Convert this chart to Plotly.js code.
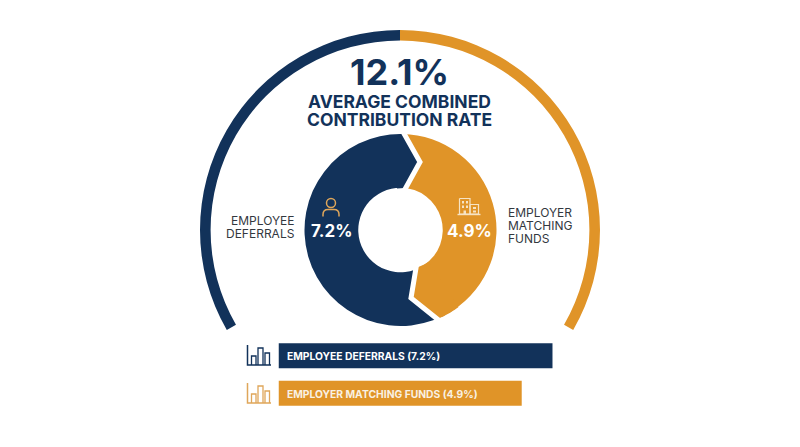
<!DOCTYPE html>
<html><head><meta charset="utf-8">
<script src="https://cdn.plot.ly/plotly-3.0.1.min.js"></script>
<style>html,body{margin:0;padding:0;background:#fff}</style></head>
<body><div id="chart" style="width:800px;height:447px"></div>
<script>
const NAVY = '#12325a', ORANGE = '#e09428', INK = '#33383f';
const FONT = 'Inter, "Open Sans", sans-serif';

// data
const sliceLabels = ['Employer Matching Funds', 'Employee Deferrals'];
const sliceValues = [4.9, 7.2];
const gaugeLabels = ['Employer', 'Open', 'Employee'];
const gaugeDegrees = [120, 120, 120];
const barCategories = ['EMPLOYEE DEFERRALS (7.2%)', 'EMPLOYER MATCHING FUNDS (4.9%)'];
const barLengths = [100, 88.7];   // as drawn: share of the longest bar
const totalLabel = '12.1%';
const titleLines = ['AVERAGE COMBINED', 'CONTRIBUTION RATE'];
const leftLines = ['EMPLOYEE', 'DEFERRALS'];
const rightLines = ['EMPLOYER', 'MATCHING', 'FUNDS'];

const W = 800, H = 447;
const fx = x => x / W, fy = y => 1 - y / H;
const pt = (x, y) => fx(x) + ' ' + fy(y);
const path = (cmds) => cmds.map(c => c[0] + ' ' + (c.slice(1).map(p => pt(p[0], p[1])).join(' '))).join(' ');
const poly = pts => path(pts.map((p, i) => [i ? 'L' : 'M', p]));

function txt(text, x, y, size, color, weight, anchor) {
  return {text, xref: 'paper', yref: 'paper', x: fx(x), y: fy(y), showarrow: false,
    xanchor: anchor || 'center', yanchor: 'middle', borderpad: 0,
    font: {family: FONT, size, color, weight: weight || 400}};
}
function fillShape(d, color) {
  return {type: 'path', xref: 'paper', yref: 'paper', path: d, fillcolor: color, line: {width: 0}, layer: 'above'};
}
function strokeShape(d, color, w) {
  return {type: 'path', xref: 'paper', yref: 'paper', path: d, line: {color, width: w}, layer: 'above'};
}
function rectPath(x0, y0, x1, y1) { return poly([[x0,y0],[x1,y0],[x1,y1],[x0,y1],[x0,y0]]); }

function barIcon(color, dy) {
  return [
    strokeShape(poly([[247.5,345+dy],[247.5,365+dy],[271,365+dy]]), color, 1.5),
    strokeShape(poly([[251.5,365+dy],[251.5,356+dy],[256,356+dy],[256,365+dy]]), color, 1.3),
    strokeShape(poly([[258,365+dy],[258,348+dy],[263,348+dy],[263,365+dy]]), color, 1.3),
    strokeShape(poly([[265,365+dy],[265,353+dy],[269.5,353+dy],[269.5,365+dy]]), color, 1.3)
  ];
}

// rim of the notch patch, following the ring's outer edge
const rim = [];
for (let a = 143; a <= 157; a += 1) {
  const t = a * Math.PI / 180;
  rim.push([400.5 + 96.4 * Math.sin(t), 230 - 96.4 * Math.cos(t)]);
}

const ICON = '#f6e3c4';
const shapes = [
  // notched boundary between the two slices
  fillShape(poly([[397,135],[403.5,134],[420,162],[404.5,188],[397,188.5]]), NAVY),
  fillShape(poly(rim.concat([[411,298],[416,268],[423,265],[429,262]])), ORANGE),
  strokeShape(poly([[402,130],[420,162],[404,191]]), '#ffffff', 5),
  strokeShape(poly([[416.5,265],[411,298],[441,322]]), '#ffffff', 5),
  // person icon
  {type: 'circle', xref: 'paper', yref: 'paper', x0: fx(326.5), x1: fx(335.5), y0: fy(207.5), y1: fy(198.5),
   line: {color: '#dfa65a', width: 1.5}, layer: 'above'},
  strokeShape('M ' + pt(323,216.5) + ' L ' + pt(323,214.5) + ' Q ' + pt(323,209.5) + ' ' + pt(328,209.5) +
    ' L ' + pt(334,209.5) + ' Q ' + pt(339,209.5) + ' ' + pt(339,214.5) + ' L ' + pt(339,216.5), '#dfa65a', 1.5),
  // building icon
  strokeShape(rectPath(459.5,198.5,470,214), ICON, 1.2),
  strokeShape(rectPath(470,204.5,478.5,214), ICON, 1.2),
  strokeShape(poly([[457.5,214.5],[480.5,214.5]]), ICON, 1.4),
  fillShape(rectPath(462,201,464,203.5), ICON), fillShape(rectPath(466,201,468,203.5), ICON),
  fillShape(rectPath(462,205.5,464,208), ICON), fillShape(rectPath(466,205.5,468,208), ICON),
  fillShape(rectPath(473,207,476,209), ICON), fillShape(rectPath(473,210.5,476,212.5), ICON),
  fillShape(rectPath(463.5,210.5,466,214), ICON)
].concat(barIcon(NAVY, 0), barIcon('#dfa65a', 38));

const annotations = [
  txt(totalLabel, 399.5, 72, 36, NAVY, 700),
  txt(titleLines[0], 399, 101.5, 17.5, NAVY, 700),
  txt(titleLines[1], 399, 119, 17.5, NAVY, 700),
  txt(leftLines[0], 295.5, 220, 12, INK, 400, 'right'),
  txt(leftLines[1], 295.5, 233.5, 12, INK, 400, 'right'),
  txt(rightLines[0], 506.5, 212, 12, INK, 400, 'left'),
  txt(rightLines[1], 506.5, 225, 12, INK, 400, 'left'),
  txt(rightLines[2], 506.5, 238, 12, INK, 400, 'left'),
  txt(sliceValues[1].toFixed(1) + '%', 331, 231, 17, '#ffffff', 700),
  txt(sliceValues[0].toFixed(1) + '%', 469, 231, 17, '#ffffff', 700),
  txt(barCategories[0], 285.5, 356, 10.3, '#ffffff', 700, 'left'),
  txt(barCategories[1], 285.5, 393.5, 10.3, '#f9f1e3', 700, 'left')
];

const traces = [
  {type: 'pie', labels: gaugeLabels, values: gaugeDegrees, sort: false, direction: 'clockwise', rotation: 0,
   hole: 0.947, domain: {x: [fx(200), fx(600)], y: [fy(430), fy(30)]},
   marker: {colors: [ORANGE, 'rgba(0,0,0,0)', NAVY], line: {width: 0}},
   textinfo: 'none', hoverinfo: 'skip', showlegend: false},
  {type: 'pie', labels: sliceLabels, values: sliceValues, sort: false, direction: 'clockwise', rotation: 1,
   hole: 0.44, domain: {x: [fx(304.5), fx(496.5)], y: [fy(326), fy(134)]},
   marker: {colors: [ORANGE, NAVY], line: {width: 0}},
   textinfo: 'none', hoverinfo: 'skip', showlegend: false},
  {type: 'bar', orientation: 'h', y: barCategories, x: barLengths, xaxis: 'x2', yaxis: 'y2',
   marker: {color: [NAVY, ORANGE], line: {width: 0}}, width: 0.668, hoverinfo: 'skip', showlegend: false}
];

const layout = {
  width: W, height: H, autosize: false, margin: {l: 0, r: 0, t: 0, b: 0, pad: 0},
  paper_bgcolor: '#ffffff', plot_bgcolor: 'rgba(0,0,0,0)', showlegend: false,
  xaxis2: {domain: [fx(278.5), fx(552.7)], range: [0, 100], visible: false, anchor: 'y2', fixedrange: true},
  yaxis2: {domain: [fy(411.9), fy(337.1)], autorange: 'reversed', visible: false, anchor: 'x2', type: 'category', fixedrange: true},
  shapes, annotations
};
Plotly.newPlot('chart', traces, layout, {displayModeBar: false, staticPlot: true});
</script></body></html>
